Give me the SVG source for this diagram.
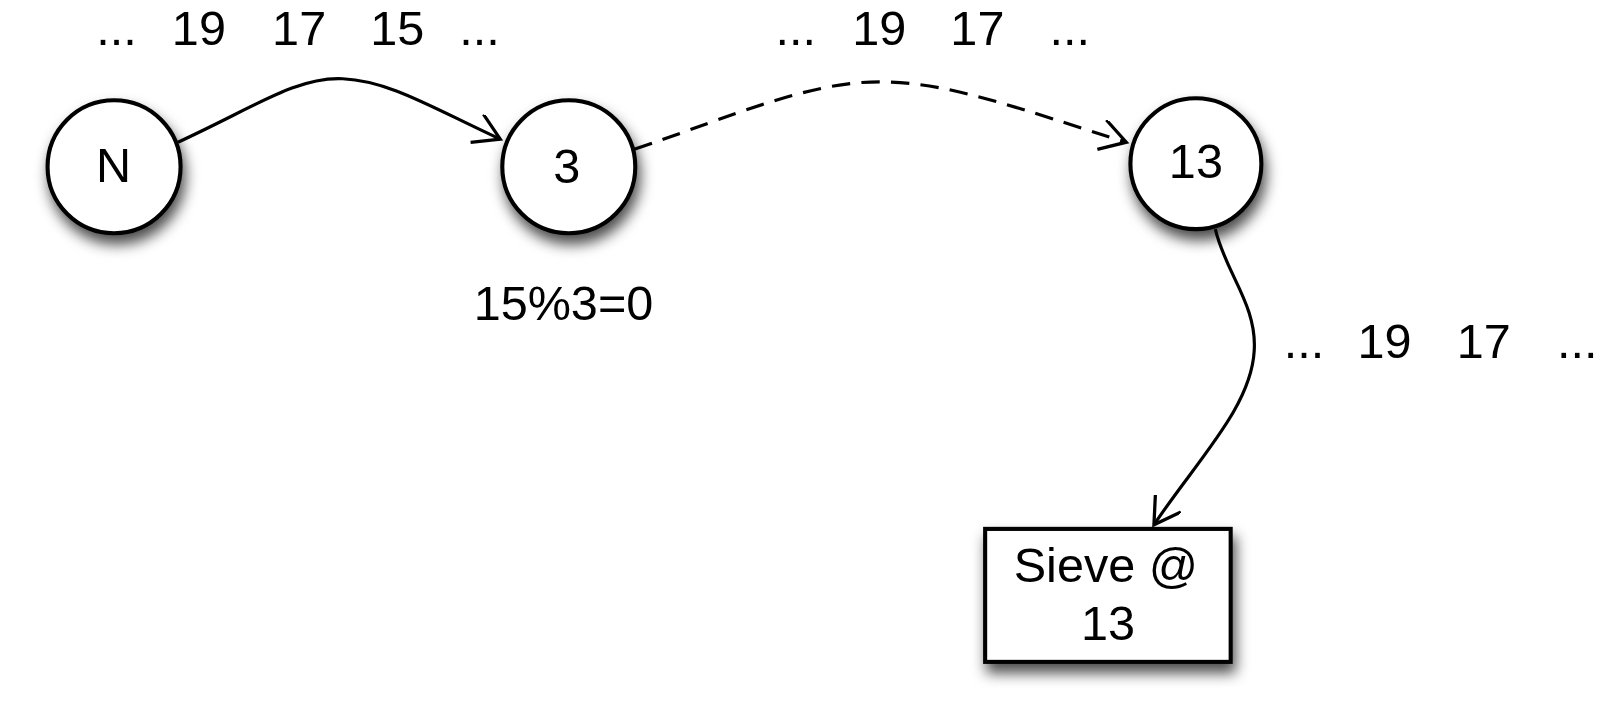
<svg xmlns="http://www.w3.org/2000/svg" width="1604" height="724" viewBox="0 0 1604 724">
<defs>
<filter id="sh" x="-40%" y="-40%" width="190%" height="190%">
<feDropShadow dx="3" dy="9" stdDeviation="7" flood-color="#000" flood-opacity="0.7"/>
</filter>
<marker id="arr" markerUnits="userSpaceOnUse" markerWidth="40" markerHeight="40" refX="26" refY="15" orient="auto" viewBox="0 0 40 40">
<path d="M1,0 L26,15 L1,30" fill="none" stroke="#000" stroke-width="3.2"/>
</marker>
</defs>
<style>
.node{fill:#fff;stroke:#000;stroke-width:4}
.lbl{font-family:"Liberation Sans",Arial,sans-serif;font-size:47.5px;fill:#000}
.edge{fill:none;stroke:#000;stroke-width:3.1}
</style>
<rect width="1604" height="724" fill="#fff"/>
<g transform="scale(1.023)">
<g id="connectors">
<path class="edge" d="M174,139 C250,104 290,75 335,77 C380,79 420,104 489,136" marker-end="url(#arr)"/>
<path class="edge" d="M620,146 C720,112 790,80 860,80 C930,80 1000,108 1101,139" stroke-dasharray="18,11" marker-end="url(#arr)"/>
<path class="edge" d="M1188,224 C1198,267 1229,298 1226,343 C1223,398 1170,450 1128,513" marker-end="url(#arr)"/>
</g>
<g id="node-N">
<circle class="node" cx="111.5" cy="163" r="65" filter="url(#sh)"/>
<text class="lbl" x="111" y="178" text-anchor="middle">N</text>
</g>
<g id="node-3">
<circle class="node" cx="556" cy="163" r="65" filter="url(#sh)"/>
<text class="lbl" x="554" y="179" text-anchor="middle">3</text>
</g>
<g id="node-13">
<circle class="node" cx="1169" cy="160" r="64" filter="url(#sh)"/>
<text class="lbl" x="1169" y="174" text-anchor="middle">13</text>
</g>
<g id="node-sieve">
<rect class="node" x="963" y="517" width="240" height="130" filter="url(#sh)"/>
<text class="lbl" x="1081" y="569" text-anchor="middle">Sieve @</text>
<text class="lbl" x="1083" y="626" text-anchor="middle">13</text>
</g>
<g id="labels">
<text class="lbl" y="44"><tspan x="94">...</tspan><tspan x="168">19</tspan><tspan x="266">17</tspan><tspan x="362">15</tspan><tspan x="449">...</tspan></text>
<text class="lbl" y="44"><tspan x="758">...</tspan><tspan x="833">19</tspan><tspan x="929">17</tspan><tspan x="1026">...</tspan></text>
<text class="lbl" y="350"><tspan x="1255">...</tspan><tspan x="1327">19</tspan><tspan x="1424">17</tspan><tspan x="1522">...</tspan></text>
<text class="lbl" x="463" y="313">15%3=0</text>
</g>
</g>
</svg>
